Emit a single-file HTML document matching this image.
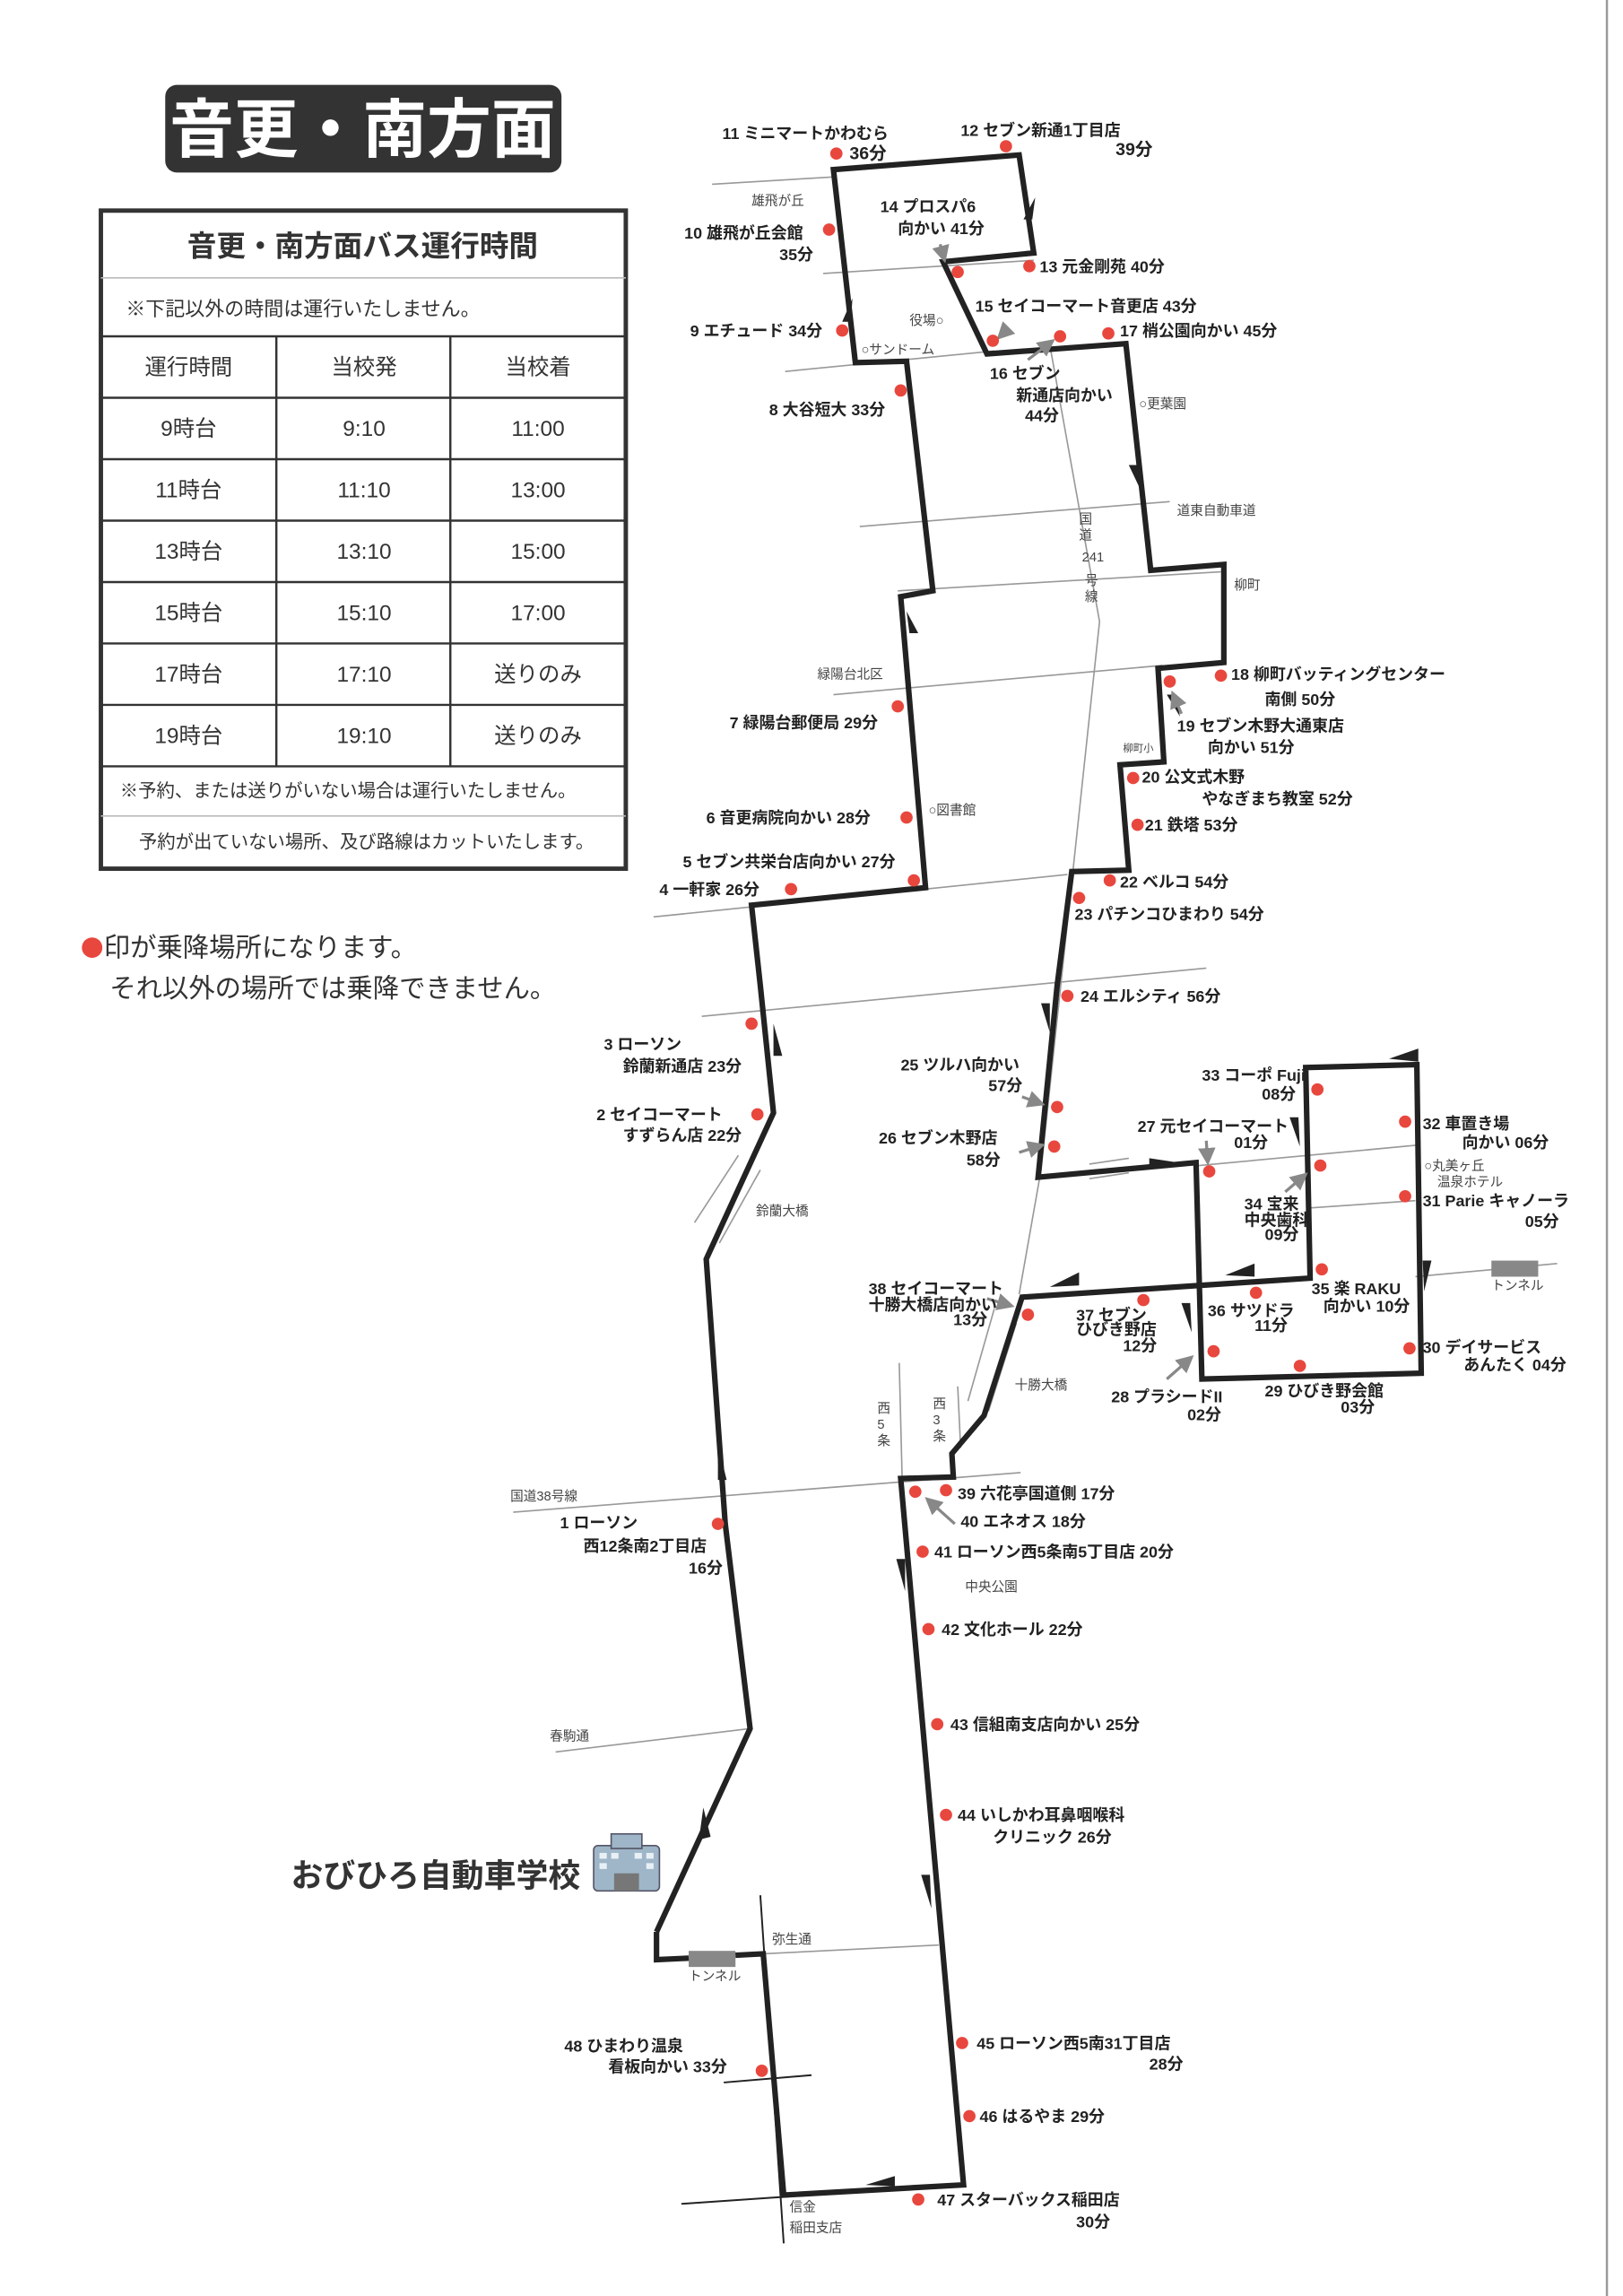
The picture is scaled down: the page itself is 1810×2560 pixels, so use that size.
<!DOCTYPE html>
<html><head><meta charset="utf-8"><style>
html,body{margin:0;padding:0;background:#fff;}
svg{display:block;}
text{font-family:"Liberation Sans","Noto Sans CJK JP",sans-serif;}
.s{font-size:11px;font-weight:bold;fill:#222;}
.r{font-size:9px;fill:#444;}
.t{font-size:15px;fill:#333;text-anchor:middle;}
</style></head><body>
<svg width="1810" height="2560" viewBox="0 0 1110 1570" preserveAspectRatio="none" xmlns="http://www.w3.org/2000/svg">
<defs><marker id="ah" markerWidth="6" markerHeight="6" refX="5" refY="3" orient="auto"><path d="M0,0 L6,3 L0,6 z" fill="#888"/></marker></defs>
<rect width="1110" height="1570" fill="#fff"/>
<line x1="1099" y1="0" x2="1099" y2="1570" stroke="#999" stroke-width="1.5"/>

<rect x="113" y="58" width="271" height="60" rx="8" fill="#333"/>
<text x="248" y="104" font-size="44" font-weight="bold" fill="#fff" text-anchor="middle">音更・南方面</text>

<g stroke="#333" fill="none">
<rect x="69" y="144" width="359" height="450" stroke-width="3"/>
<line x1="69" y1="190" x2="428" y2="190" stroke="#bbb" stroke-width="1"/>
<line x1="69" y1="230" x2="428" y2="230" stroke-width="1.5"/>
<line x1="69" y1="272" x2="428" y2="272" stroke-width="1.5"/>
<line x1="69" y1="314" x2="428" y2="314" stroke-width="1.5"/>
<line x1="69" y1="356" x2="428" y2="356" stroke-width="1.5"/>
<line x1="69" y1="398" x2="428" y2="398" stroke-width="1.5"/>
<line x1="69" y1="440" x2="428" y2="440" stroke-width="1.5"/>
<line x1="69" y1="482" x2="428" y2="482" stroke-width="1.5"/>
<line x1="69" y1="524" x2="428" y2="524" stroke-width="1.5"/>
<line x1="69" y1="558" x2="428" y2="558" stroke="#bbb" stroke-width="1"/>
<line x1="189" y1="230" x2="189" y2="524" stroke-width="1.5"/>
<line x1="308" y1="230" x2="308" y2="524" stroke-width="1.5"/>
</g>
<text x="248" y="175" font-size="20" font-weight="bold" fill="#333" text-anchor="middle">音更・南方面バス運行時間</text>
<text x="86" y="216" font-size="13.5" fill="#333">※下記以外の時間は運行いたしません。</text>
<text class="t" x="129" y="256">運行時間</text><text class="t" x="249" y="256">当校発</text><text class="t" x="368" y="256">当校着</text>
<text class="t" x="129" y="298">9時台</text><text class="t" x="249" y="298">9:10</text><text class="t" x="368" y="298">11:00</text>
<text class="t" x="129" y="340">11時台</text><text class="t" x="249" y="340">11:10</text><text class="t" x="368" y="340">13:00</text>
<text class="t" x="129" y="382">13時台</text><text class="t" x="249" y="382">13:10</text><text class="t" x="368" y="382">15:00</text>
<text class="t" x="129" y="424">15時台</text><text class="t" x="249" y="424">15:10</text><text class="t" x="368" y="424">17:00</text>
<text class="t" x="129" y="466">17時台</text><text class="t" x="249" y="466">17:10</text><text class="t" x="368" y="466">送りのみ</text>
<text class="t" x="129" y="508">19時台</text><text class="t" x="249" y="508">19:10</text><text class="t" x="368" y="508">送りのみ</text>
<text x="82" y="545" font-size="12.5" fill="#333">※予約、または送りがいない場合は運行いたしません。</text>
<text x="95" y="580" font-size="12.5" fill="#333">予約が出ていない場所、及び路線はカットいたします。</text>

<circle cx="63" cy="648" r="7" fill="#e8473e"/>
<text x="71" y="654" font-size="18" fill="#333">印が乗降場所になります。</text>
<text x="75" y="682" font-size="18" fill="#333">それ以外の場所では乗降できません。</text>

<g stroke="#999" stroke-width="1" fill="none">
<line x1="487" y1="126" x2="570" y2="121"/>
<line x1="563" y1="187" x2="707" y2="178"/>
<line x1="537" y1="254" x2="680" y2="240"/>
<polyline points="718,236 752,425 712,800 697,885"/>
<line x1="588" y1="360" x2="800" y2="343"/>
<line x1="614" y1="404" x2="835" y2="391"/>
<line x1="570" y1="475" x2="795" y2="455"/>
<line x1="447" y1="627" x2="730" y2="598"/>
<line x1="480" y1="695" x2="825" y2="662"/>
<line x1="820" y1="797" x2="970" y2="783"/>
<line x1="896" y1="826" x2="968" y2="821"/>
<line x1="968" y1="873" x2="1065" y2="864"/>
<line x1="351" y1="1034" x2="698" y2="1007"/>
<line x1="380" y1="1198" x2="513" y2="1182"/>
<line x1="522" y1="1336" x2="642" y2="1330"/>
<line x1="615" y1="932" x2="617" y2="1011"/>
<line x1="655" y1="948" x2="657" y2="990"/>
<line x1="505" y1="790" x2="475" y2="836"/>
<line x1="520" y1="800" x2="492" y2="850"/>
<line x1="680" y1="895" x2="662" y2="958"/>
<line x1="695" y1="905" x2="676" y2="965"/>
<line x1="745" y1="796" x2="772" y2="792"/>
<line x1="745" y1="806" x2="772" y2="802"/>
</g>
<g stroke="#222" stroke-width="1.2">
<line x1="466" y1="1507" x2="657" y2="1494"/>
<line x1="495" y1="1424" x2="555" y2="1419"/>
<line x1="520" y1="1296" x2="536" y2="1534"/>
</g>
<rect x="1020" y="862" width="32" height="11" fill="#888"/>
<rect x="471" y="1334" width="32" height="11" fill="#888"/>

<g stroke="#222" stroke-width="3.8" fill="none" stroke-linejoin="miter">
<polyline points="449,1321 449,1340 471,1339"/>
<polyline points="503,1337 522,1336 536,1501 659,1494 616,1011 652,1010 651,994 673,968 699,887 896,874 893,730 969,728 972,939 822,943 818,795 710,805 723,674 733,596 772,595 766,523 796,521 792,457 837,453 837,386 787,390 770,235 675,242 645,179 707,173 697,106 570,116 585,248 620,247 638,404 616,408 633,607 514,619 520,674 529,761 483,861 496,1042 513,1182 449,1321"/>
</g>
<g fill="#222">
<polygon points="529,700 529,722 535,722"/>
<polygon points="491,988 491,1012 497,1012"/>
<polygon points="481,1236 478,1258 486,1256"/>
<polygon points="619,1088 619,1066 613,1066"/>
<polygon points="637,1305 636,1282 630,1282"/>
<polygon points="592,1494 612,1488 612,1495"/>
<polygon points="718,706 718,686 712,686"/>
<polygon points="806,795 786,792 786,797"/>
<polygon points="970,717 950,724 970,726"/>
<polygon points="889,784 888,764 882,764"/>
<polygon points="838,872 858,864 858,873"/>
<polygon points="718,880 738,870 738,879"/>
<polygon points="815,911 814,891 808,891"/>
<polygon points="974,883 973,862 979,862"/>
<polygon points="708,135 706,150 700,150"/>
<polygon points="781,337 778,318 772,318"/>
<polygon points="583,204 582,220 576,220"/>
<polygon points="620,418 622,433 628,433"/>
<polygon points="807,490 804,475 798,475"/>
</g>
<g stroke="#888" stroke-width="2" fill="none" marker-end="url(#ah)">
<line x1="643" y1="167" x2="646" y2="178"/>
<line x1="690" y1="224" x2="683" y2="231"/>
<line x1="703" y1="246" x2="720" y2="233"/>
<line x1="808" y1="488" x2="802" y2="474"/>
<line x1="699" y1="750" x2="713" y2="755"/>
<line x1="697" y1="788" x2="713" y2="783"/>
<line x1="825" y1="780" x2="826" y2="795"/>
<line x1="879" y1="815" x2="893" y2="803"/>
<line x1="675" y1="888" x2="692" y2="893"/>
<line x1="798" y1="943" x2="815" y2="928"/>
<line x1="653" y1="1042" x2="634" y2="1025"/>
</g>

<g fill="#e8473e">
<circle cx="572" cy="105" r="4.2"/><circle cx="688" cy="100" r="4.2"/><circle cx="567" cy="157" r="4.2"/>
<circle cx="655" cy="186" r="4.2"/><circle cx="704" cy="182" r="4.2"/><circle cx="576" cy="226" r="4.2"/>
<circle cx="679" cy="233" r="4.2"/><circle cx="725" cy="230" r="4.2"/><circle cx="758" cy="228" r="4.2"/>
<circle cx="616" cy="267" r="4.2"/><circle cx="614" cy="483" r="4.2"/><circle cx="620" cy="559" r="4.2"/>
<circle cx="625" cy="602" r="4.2"/><circle cx="541" cy="608" r="4.2"/><circle cx="835" cy="462" r="4.2"/>
<circle cx="800" cy="466" r="4.2"/><circle cx="775" cy="532" r="4.2"/><circle cx="778" cy="564" r="4.2"/>
<circle cx="759" cy="602" r="4.2"/><circle cx="738" cy="614" r="4.2"/><circle cx="730" cy="681" r="4.2"/>
<circle cx="514" cy="700" r="4.2"/><circle cx="518" cy="762" r="4.2"/><circle cx="723" cy="757" r="4.2"/>
<circle cx="721" cy="784" r="4.2"/><circle cx="901" cy="745" r="4.2"/><circle cx="961" cy="767" r="4.2"/>
<circle cx="827" cy="801" r="4.2"/><circle cx="903" cy="797" r="4.2"/><circle cx="961" cy="818" r="4.2"/>
<circle cx="904" cy="868" r="4.2"/><circle cx="859" cy="884" r="4.2"/><circle cx="782" cy="889" r="4.2"/>
<circle cx="703" cy="899" r="4.2"/><circle cx="964" cy="922" r="4.2"/><circle cx="830" cy="924" r="4.2"/>
<circle cx="889" cy="934" r="4.2"/><circle cx="647" cy="1019" r="4.2"/><circle cx="626" cy="1020" r="4.2"/>
<circle cx="491" cy="1042" r="4.2"/><circle cx="631" cy="1061" r="4.2"/><circle cx="635" cy="1114" r="4.2"/>
<circle cx="641" cy="1179" r="4.2"/><circle cx="647" cy="1241" r="4.2"/><circle cx="658" cy="1397" r="4.2"/>
<circle cx="663" cy="1447" r="4.2"/><circle cx="628" cy="1504" r="4.2"/><circle cx="521" cy="1416" r="4.2"/>
</g>

<g class="s">
<text x="494" y="95">11 ミニマートかわむら</text><text x="581" y="109" font-size="12">36分</text>
<text x="657" y="93">12 セブン新通1丁目店</text><text x="763" y="106" font-size="12">39分</text>
<text x="602" y="145">14 プロスパ6</text><text x="614" y="160">向かい 41分</text>
<text x="468" y="163">10 雄飛が丘会館</text><text x="533" y="178">35分</text>
<text x="711" y="186">13 元金剛苑 40分</text>
<text x="667" y="213">15 セイコーマート音更店 43分</text>
<text x="472" y="230">9 エチュード 34分</text>
<text x="766" y="230">17 梢公園向かい 45分</text>
<text x="677" y="259">16 セブン</text><text x="695" y="274">新通店向かい</text><text x="701" y="288">44分</text>
<text x="526" y="284">8 大谷短大 33分</text>
<text x="842" y="465">18 柳町バッティングセンター</text><text x="865" y="482">南側 50分</text>
<text x="805" y="500">19 セブン木野大通東店</text><text x="826" y="515">向かい 51分</text>
<text x="499" y="498">7 緑陽台郵便局 29分</text>
<text x="781" y="535">20 公文式木野</text><text x="822" y="550">やなぎまち教室 52分</text>
<text x="783" y="568">21 鉄塔 53分</text>
<text x="483" y="563">6 音更病院向かい 28分</text>
<text x="467" y="593">5 セブン共栄台店向かい 27分</text>
<text x="451" y="612">4 一軒家 26分</text>
<text x="766" y="607">22 ベルコ 54分</text>
<text x="735" y="629">23 パチンコひまわり 54分</text>
<text x="739" y="685">24 エルシティ 56分</text>
<text x="413" y="718">3 ローソン</text><text x="426" y="733">鈴蘭新通店 23分</text>
<text x="408" y="766">2 セイコーマート</text><text x="426" y="780">すずらん店 22分</text>
<text x="616" y="732">25 ツルハ向かい</text><text x="676" y="746">57分</text>
<text x="601" y="782">26 セブン木野店</text><text x="661" y="797">58分</text>
<text x="822" y="739">33 コーポ Fuji</text><text x="863" y="752">08分</text>
<text x="973" y="772">32 車置き場</text><text x="1000" y="785">向かい 06分</text>
<text x="778" y="774">27 元セイコーマート</text><text x="844" y="785">01分</text>
<text x="851" y="827">34 宝来</text><text x="851" y="838">中央歯科</text><text x="865" y="848">09分</text>
<text x="973" y="825">31 Parie キャノーラ</text><text x="1043" y="839">05分</text>
<text x="897" y="885">35 楽 RAKU</text><text x="905" y="897">向かい 10分</text>
<text x="826" y="900">36 サツドラ</text><text x="858" y="910">11分</text>
<text x="736" y="903">37 セブン</text><text x="736" y="913">ひびき野店</text><text x="768" y="924">12分</text>
<text x="594" y="885">38 セイコーマート</text><text x="594" y="896">十勝大橋店向かい</text><text x="652" y="906">13分</text>
<text x="973" y="925">30 デイサービス</text><text x="1001" y="937">あんたく 04分</text>
<text x="760" y="959">28 プラシードII</text><text x="812" y="971">02分</text>
<text x="865" y="955">29 ひびき野会館</text><text x="917" y="966">03分</text>
<text x="655" y="1025">39 六花亭国道側 17分</text>
<text x="657" y="1044">40 エネオス 18分</text>
<text x="383" y="1045">1 ローソン</text><text x="399" y="1061">西12条南2丁目店</text><text x="471" y="1076">16分</text>
<text x="639" y="1065">41 ローソン西5条南5丁目店 20分</text>
<text x="644" y="1118">42 文化ホール 22分</text>
<text x="650" y="1183">43 信組南支店向かい 25分</text>
<text x="655" y="1245">44 いしかわ耳鼻咽喉科</text><text x="679" y="1260">クリニック 26分</text>
<text x="668" y="1401">45 ローソン西5南31丁目店</text><text x="786" y="1415">28分</text>
<text x="670" y="1451">46 はるやま 29分</text>
<text x="641" y="1508">47 スターバックス稲田店</text><text x="736" y="1523">30分</text>
<text x="386" y="1403">48 ひまわり温泉</text><text x="416" y="1417">看板向かい 33分</text>
</g>
<g class="r">
<text x="514" y="140">雄飛が丘</text>
<text x="622" y="222">役場○</text>
<text x="589" y="242">○サンドーム</text>
<text x="779" y="279">○更葉園</text>
<text x="805" y="352">道東自動車道</text>
<text x="844" y="403">柳町</text>
<text x="559" y="464">緑陽台北区</text>
<text x="768" y="514" font-size="7">柳町小</text>
<text x="635" y="557">○図書館</text>
<text x="974" y="800">○丸美ヶ丘</text>
<text x="983" y="811">温泉ホテル</text>
<text x="1020" y="882">トンネル</text>
<text x="517" y="831">鈴蘭大橋</text>
<text x="694" y="950">十勝大橋</text>
<text x="349" y="1026">国道38号線</text>
<text x="660" y="1088">中央公園</text>
<text x="376" y="1190">春駒通</text>
<text x="528" y="1329">弥生通</text>
<text x="471" y="1354">トンネル</text>
<text x="540" y="1512">信金</text>
<text x="540" y="1526">稲田支店</text>
<text x="600" y="966">西</text><text x="600" y="977">5</text><text x="600" y="988">条</text>
<text x="638" y="963">西</text><text x="638" y="974">3</text><text x="638" y="985">条</text>
<text x="738" y="358">国</text><text x="738" y="369">道</text><text x="740" y="384">241</text><text x="742" y="400">号</text><text x="742" y="411">線</text>
</g>

<text x="199" y="1290" font-size="22" font-weight="bold" fill="#333">おびひろ自動車学校</text>
<g>
<rect x="406" y="1262" width="45" height="31" rx="3" fill="#9eb6c8" stroke="#556" stroke-width="1"/>
<rect x="418" y="1254" width="21" height="10" fill="#9eb6c8" stroke="#556" stroke-width="1"/>
<rect x="420" y="1281" width="17" height="12" fill="#777"/>
<g fill="#e8f0f6"><rect x="410" y="1267" width="5" height="4"/><rect x="418" y="1267" width="5" height="4"/><rect x="434" y="1267" width="5" height="4"/><rect x="442" y="1267" width="5" height="4"/><rect x="410" y="1274" width="5" height="4"/><rect x="442" y="1274" width="5" height="4"/></g>
</g>
</svg>
</body></html>
